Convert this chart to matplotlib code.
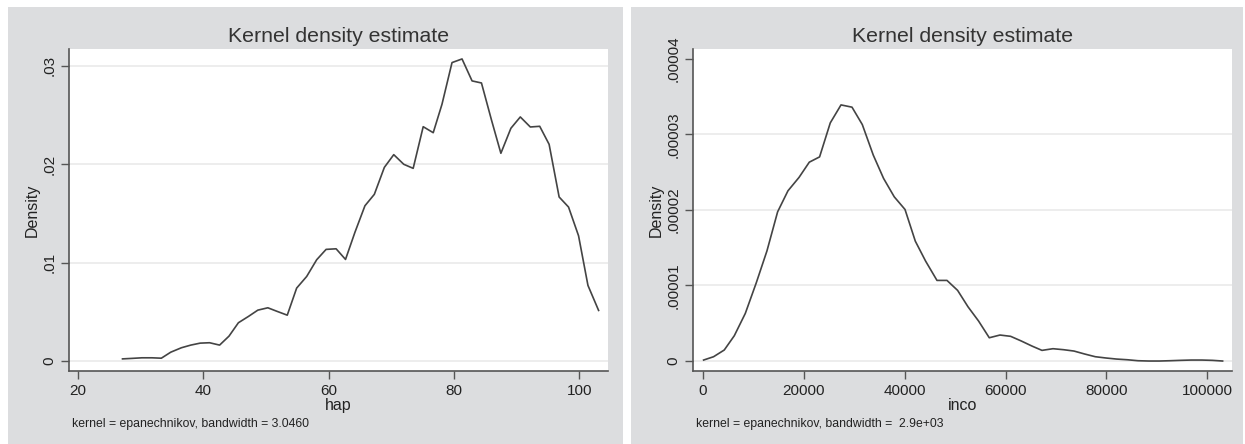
import matplotlib
matplotlib.use('Agg')
import matplotlib.pyplot as plt
from matplotlib.patches import Rectangle

plt.rcParams['font.family'] = ['Liberation Sans', 'DejaVu Sans']

# left panel: hap
hap_x = [27.1, 28.6, 30.2, 31.8, 33.3, 34.8, 36.5, 38.0, 39.5, 41.0,
         42.6, 44.1, 45.6, 47.2, 48.7, 50.3, 51.8, 53.4, 54.9, 56.5,
         58.1, 59.6, 61.2, 62.7, 64.2, 65.8, 67.3, 68.9, 70.4, 72.0,
         73.5, 75.1, 76.7, 78.1, 79.7, 81.3, 82.9, 84.4, 86.0, 87.5,
         89.1, 90.6, 92.2, 93.7, 95.2, 96.8, 98.3, 99.9, 101.4, 103.1]
hap_y = [0.00023, 0.00028, 0.00034, 0.00034, 0.00030, 0.00091, 0.00136, 0.00163, 0.00183, 0.00187,
         0.00163, 0.00254, 0.00390, 0.00454, 0.00518, 0.00542, 0.00505, 0.00467, 0.00742, 0.00860,
         0.01030, 0.01135, 0.01141, 0.01033, 0.01308, 0.01578, 0.01694, 0.01968, 0.02097, 0.01999,
         0.01958, 0.02381, 0.02320, 0.02609, 0.03032, 0.03069, 0.02846, 0.02825, 0.02449, 0.02111,
         0.02365, 0.02480, 0.02378, 0.02385, 0.02202, 0.01667, 0.01565, 0.01273, 0.00769, 0.00515]
hap_xticks = [20, 40, 60, 80, 100]
hap_yticks = [0, 0.01, 0.02, 0.03]
hap_ylabels = ['0', '.01', '.02', '.03']

# right panel: inco
inco_x = [120, 2100, 4220, 6210, 8390, 10570, 12690, 14800, 16850, 19040,
          21080, 23120, 25240, 27370, 29550, 31590, 33770, 35810, 37930, 40060,
          42100, 44140, 46400, 48380, 50490, 52550, 54650, 56770, 58890, 61000,
          63120, 65240, 67220, 69400, 71500, 73570, 75670, 77790, 79910, 82010,
          84140, 86260, 88400, 90500, 92600, 94700, 96800, 98900, 101000, 103040]
inco_y = [1.3e-7, 5.7e-7, 1.46e-6, 3.35e-6, 6.3e-6, 1.036e-5, 1.459e-5, 1.975e-5, 2.253e-5, 2.43e-5,
          2.632e-5, 2.702e-5, 3.152e-5, 3.39e-5, 3.36e-5, 3.13e-5, 2.725e-5, 2.417e-5, 2.173e-5, 2.006e-5,
          1.587e-5, 1.323e-5, 1.067e-5, 1.067e-5, 9.35e-6, 7.18e-6, 5.29e-6, 3.08e-6, 3.44e-6, 3.27e-6,
          2.65e-6, 1.98e-6, 1.41e-6, 1.63e-6, 1.5e-6, 1.32e-6, 9.3e-7, 5.7e-7, 4.0e-7, 2.6e-7,
          1.7e-7, 4e-8, 0.0, 0.0, 4e-8, 9e-8, 1.3e-7, 1.3e-7, 9e-8, 0.0]
inco_xticks = [0, 20000, 40000, 60000, 80000, 100000]
inco_yticks = [0, 0.00001, 0.00002, 0.00003, 0.00004]
inco_ylabels = ['0', '.00001', '.00002', '.00003', '.00004']

W, H = 1245, 444
fig = plt.figure(figsize=(W / 100, H / 100), dpi=100)
fig.patch.set_facecolor('white')

bg = '#dcdddf'
fig.patches.append(Rectangle((8 / W, 0), 615 / W, 437 / H, transform=fig.transFigure,
                             facecolor=bg, edgecolor='none', zorder=-5))
fig.patches.append(Rectangle((631 / W, 0), 612 / W, 437 / H, transform=fig.transFigure,
                             facecolor=bg, edgecolor='none', zorder=-5))


def panel(left, right, x, y, xticks, yticks, ylabels, xlim, ylim, xlabel, note, gridticks):
    ax = fig.add_axes([left / W, 1 - 371 / H, (right - left) / W, 322 / H])
    ax.set_zorder(2)
    ax.set_facecolor('white')
    ax.plot(x, y, color='#444444', lw=1.2, zorder=3)
    ax.set_xlim(xlim)
    ax.set_ylim(ylim)
    ax.set_xticks(xticks)
    ax.set_yticks(yticks)
    ax.set_yticklabels(ylabels, rotation=90, va='center')
    for g in gridticks:
        ax.axhline(g, color='#eaeaea', lw=1.2, zorder=1)
    for s in ['top', 'right']:
        ax.spines[s].set_visible(False)
    for s in ['left', 'bottom']:
        ax.spines[s].set_color('#555555')
        ax.spines[s].set_linewidth(1.2)
    ax.tick_params(direction='out', length=6, width=1, color='#555555',
                   labelsize=11, labelcolor='#222222', pad=3)
    ax.set_xlabel(xlabel, fontsize=11.5, color='#222222', labelpad=0)
    ax.set_ylabel('Density', fontsize=11.5, color='#222222', labelpad=2)
    ax.set_title('Kernel density estimate', fontsize=15.3, color='#333333', pad=5)
    fig.text((left + 3) / W, 1 - 424 / H, note, fontsize=8.8, color='#222222', va='center')
    return ax


panel(69, 608, hap_x, hap_y, hap_xticks, hap_yticks, hap_ylabels,
      (18.56, 104.6), (-0.001, 0.0317), 'hap',
      'kernel = epanechnikov, bandwidth = 3.0460', hap_yticks)
panel(693, 1232, inco_x, inco_y, inco_xticks, inco_yticks, inco_ylabels,
      (-1980, 104900), (-1.32e-6, 4.13e-5), 'inco',
      'kernel = epanechnikov, bandwidth =  2.9e+03', inco_yticks[:-1])

fig.savefig('out.png', dpi=100)
